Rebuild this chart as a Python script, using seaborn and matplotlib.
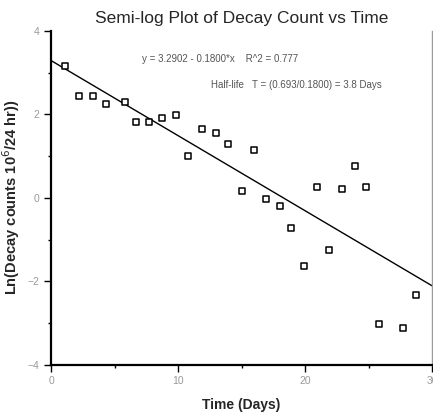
import numpy as np
import pandas as pd
import matplotlib
matplotlib.use("Agg")
import matplotlib.pyplot as plt
import seaborn as sns

days = [1.1, 2.2, 3.3, 4.3, 5.8, 6.7, 7.7, 8.7, 9.8, 10.8, 11.9, 13.0, 13.9,
        15.0, 16.0, 16.9, 18.0, 18.9, 19.9, 20.9, 21.9, 22.9, 23.9, 24.8,
        25.8, 27.7, 28.7]
ln_counts = [3.17, 2.44, 2.44, 2.25, 2.29, 1.82, 1.82, 1.91, 1.98, 1.00, 1.65,
             1.55, 1.29, 0.16, 1.15, -0.04, -0.20, -0.73, -1.64, 0.25, -1.24,
             0.22, 0.76, 0.25, -3.02, -3.12, -2.33]

# fit reported on the chart
intercept = 3.2902
slope = -0.1800
r2 = 0.777
half_life = 0.693 / 0.1800

sim = pd.DataFrame({'day': days, 'lnc': ln_counts})
fit_x = np.array([0, 30])
fit = pd.DataFrame({'day': fit_x, 'lnc': intercept + slope * fit_x})

sns.set_style("ticks")
plt.rcParams['font.family'] = ['Liberation Sans', 'DejaVu Sans']

fig = plt.figure(figsize=(4.33, 4.13), dpi=100)
ax = fig.add_axes([0.118, 0.117, 0.880, 0.808])

sns.lineplot(data=fit, x='day', y='lnc', color='black', linewidth=1.0, ax=ax)
sns.scatterplot(data=sim, x='day', y='lnc', marker='s', s=20,
                facecolor='white', edgecolor='black', linewidth=1.1, ax=ax,
                zorder=3)

ax.set_xlim(0, 30)
ax.set_ylim(-4, 4)
ax.set_xticks([0, 10, 20, 30])
ax.set_yticks([-4, -2, 0, 2, 4])
ax.set_xticks([5, 15, 25], minor=True)
ax.set_yticks([-3, -1, 1, 3], minor=True)
ax.tick_params(which='major', direction='out', length=5, width=1,
               labelsize=7.5, labelcolor='#9a9a9a', color='black')
ax.tick_params(which='minor', direction='out', length=2.5, width=1,
               color='black')

for s in ['left', 'bottom']:
    ax.spines[s].set_linewidth(1.6)
    ax.spines[s].set_color('black')
ax.spines['top'].set_visible(False)
ax.spines['right'].set_visible(True)
ax.spines['right'].set_color('#9a9a9a')
ax.spines['right'].set_linewidth(1.0)

ax.set_xlabel('Time (Days)', fontsize=10, fontweight='bold', labelpad=8)
ax.set_ylabel(r'Ln(Decay counts 10$^{6}$/24 hr))', fontsize=10.5,
              fontweight='bold', labelpad=4)
ax.set_title('Semi-log Plot of Decay Count vs Time', fontsize=12.5, pad=6)

ax.text(0.239, 0.916, 'y = %.4f - %.4f*x    R^2 = %.3f' % (intercept, -slope, r2),
        transform=ax.transAxes, fontsize=7, color='#555555', va='center')
ax.text(0.42, 0.838, 'Half-life   T = (0.693/%.4f) = %.1f Days' % (-slope, half_life),
        transform=ax.transAxes, fontsize=7, color='#555555', va='center')

fig.savefig('out.png', dpi=100)
